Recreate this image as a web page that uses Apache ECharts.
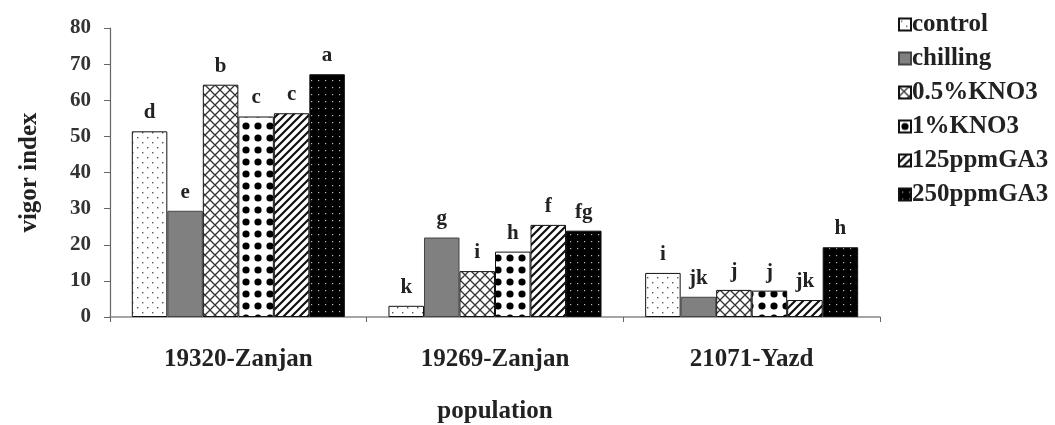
<!DOCTYPE html>
<html>
<head>
<meta charset="utf-8">
<script src="https://cdn.jsdelivr.net/npm/echarts@6/dist/echarts.min.js"></script>
<style>
  html, body { margin: 0; padding: 0; background: #fff; }
  #chart { width: 1055px; height: 425px; }
</style>
</head>
<body>
<div id="chart"></div>
<script>
// data
const categories = ['19320-Zanjan', '19269-Zanjan', '21071-Yazd'];
const seriesNames = ['control', 'chilling', '0.5%KNO3', '1%KNO3', '125ppmGA3', '250ppmGA3'];
const controlVals = [51.4, 3.1, 12.2];
const chillingVals = [29.4, 22.0, 5.6];
const kno3HalfVals = [64.3, 12.7, 7.5];
const kno3OneVals = [55.5, 18.1, 7.3];
const ga125Vals = [56.4, 25.5, 4.7];
const ga250Vals = [67.2, 23.9, 19.3];
const controlLetters = ['d', 'k', 'i'];
const chillingLetters = ['e', 'g', 'jk'];
const kno3HalfLetters = ['b', 'i', 'j'];
const kno3OneLetters = ['c', 'h', 'j'];
const ga125Letters = ['c', 'f', 'jk'];
const ga250Letters = ['a', 'fg', 'h'];
const yTicks = [0, 80, 10]; // min, max, interval

const FONT = '"Liberation Serif", "DejaVu Serif", serif';

// fill patterns (canvas tiles)
function tile(w, h, draw) {
  const c = document.createElement('canvas');
  c.width = w; c.height = h;
  draw(c.getContext('2d'), w, h);
  return { image: c, repeat: 'repeat' };
}
const patterns = [
  tile(10, 10, (g) => {
    g.fillStyle = '#fff'; g.fillRect(0, 0, 10, 10);
    g.fillStyle = '#555';
    g.fillRect(2, 2, 1.4, 1.4); g.fillRect(7, 7, 1.4, 1.4);
  }),
  '#808080',
  tile(10, 10, (g) => {
    g.fillStyle = '#fff'; g.fillRect(0, 0, 10, 10);
    g.strokeStyle = '#333'; g.lineWidth = 1.3;
    g.beginPath();
    g.moveTo(0, 10); g.lineTo(10, 0);
    g.moveTo(-5, 5); g.lineTo(5, -5);
    g.moveTo(5, 15); g.lineTo(15, 5);
    g.moveTo(0, 0); g.lineTo(10, 10);
    g.moveTo(-5, 5); g.lineTo(5, 15);
    g.moveTo(5, -5); g.lineTo(15, 5);
    g.stroke();
  }),
  tile(12, 12, (g) => {
    g.fillStyle = '#fff'; g.fillRect(0, 0, 12, 12);
    g.fillStyle = '#000';
    g.beginPath(); g.arc(6, 6, 3.6, 0, Math.PI * 2); g.fill();
  }),
  tile(8, 8, (g) => {
    g.fillStyle = '#fff'; g.fillRect(0, 0, 8, 8);
    g.strokeStyle = '#111'; g.lineWidth = 2.2;
    g.beginPath();
    g.moveTo(0, 8); g.lineTo(8, 0);
    g.moveTo(-4, 4); g.lineTo(4, -4);
    g.moveTo(4, 12); g.lineTo(12, 4);
    g.stroke();
  }),
  tile(7, 7, (g) => {
    g.fillStyle = '#000'; g.fillRect(0, 0, 7, 7);
    g.fillStyle = '#bbb';
    g.fillRect(3, 3, 1.2, 1.2);
  })
];

const valueSets = [controlVals, chillingVals, kno3HalfVals, kno3OneVals, ga125Vals, ga250Vals];
const letterSets = [controlLetters, chillingLetters, kno3HalfLetters, kno3OneLetters, ga125Letters, ga250Letters];

const chart = echarts.init(document.getElementById('chart'));

const series = seriesNames.map((name, i) => ({
  name: name,
  type: 'bar',
  barGap: '0%',
  barCategoryGap: '17%',
  itemStyle: {
    color: patterns[i],
    borderColor: i === 1 ? '#444' : '#111',
    borderWidth: 1
  },
  label: {
    show: true,
    position: 'top',
    distance: 8,
    fontFamily: FONT,
    fontWeight: 'bold',
    fontSize: 21,
    color: '#222',
    formatter: (p) => letterSets[i][p.dataIndex]
  },
  data: valueSets[i]
}));

chart.setOption({
  animation: false,
  backgroundColor: '#fff',
  grid: { left: 110, right: 175, top: 28, bottom: 108, outerBoundsMode: 'none' },
  legend: {
    orient: 'vertical',
    left: 893,
    top: 7,
    itemWidth: 12,
    itemHeight: 12,
    itemGap: 9,
    icon: 'rect',
    textStyle: { fontFamily: FONT, fontWeight: 'bold', fontSize: 25, color: '#222', padding: [0, 0, 0, -4] },
    data: seriesNames
  },
  xAxis: {
    type: 'category',
    data: categories,
    name: 'population',
    nameLocation: 'middle',
    nameGap: 82,
    nameTextStyle: { fontFamily: FONT, fontWeight: 'bold', fontSize: 25, color: '#222' },
    axisLine: { lineStyle: { color: '#888', width: 1.5 } },
    axisTick: { show: true, length: 5, lineStyle: { color: '#666' } },
    axisLabel: { fontFamily: FONT, fontWeight: 'bold', fontSize: 25, color: '#222', margin: 30 }
  },
  yAxis: {
    type: 'value',
    min: yTicks[0],
    max: yTicks[1],
    interval: yTicks[2],
    name: 'vigor index',
    nameLocation: 'middle',
    nameGap: 68,
    nameTextStyle: { fontFamily: FONT, fontWeight: 'bold', fontSize: 25, color: '#222' },
    splitLine: { show: false },
    axisLine: { show: true, lineStyle: { color: '#666', width: 1.2 } },
    axisTick: { show: true, length: 6, lineStyle: { color: '#666' } },
    axisLabel: { fontFamily: FONT, fontWeight: 'bold', fontSize: 21, color: '#333', margin: 19 }
  },
  series: series
});
</script>
</body>
</html>
